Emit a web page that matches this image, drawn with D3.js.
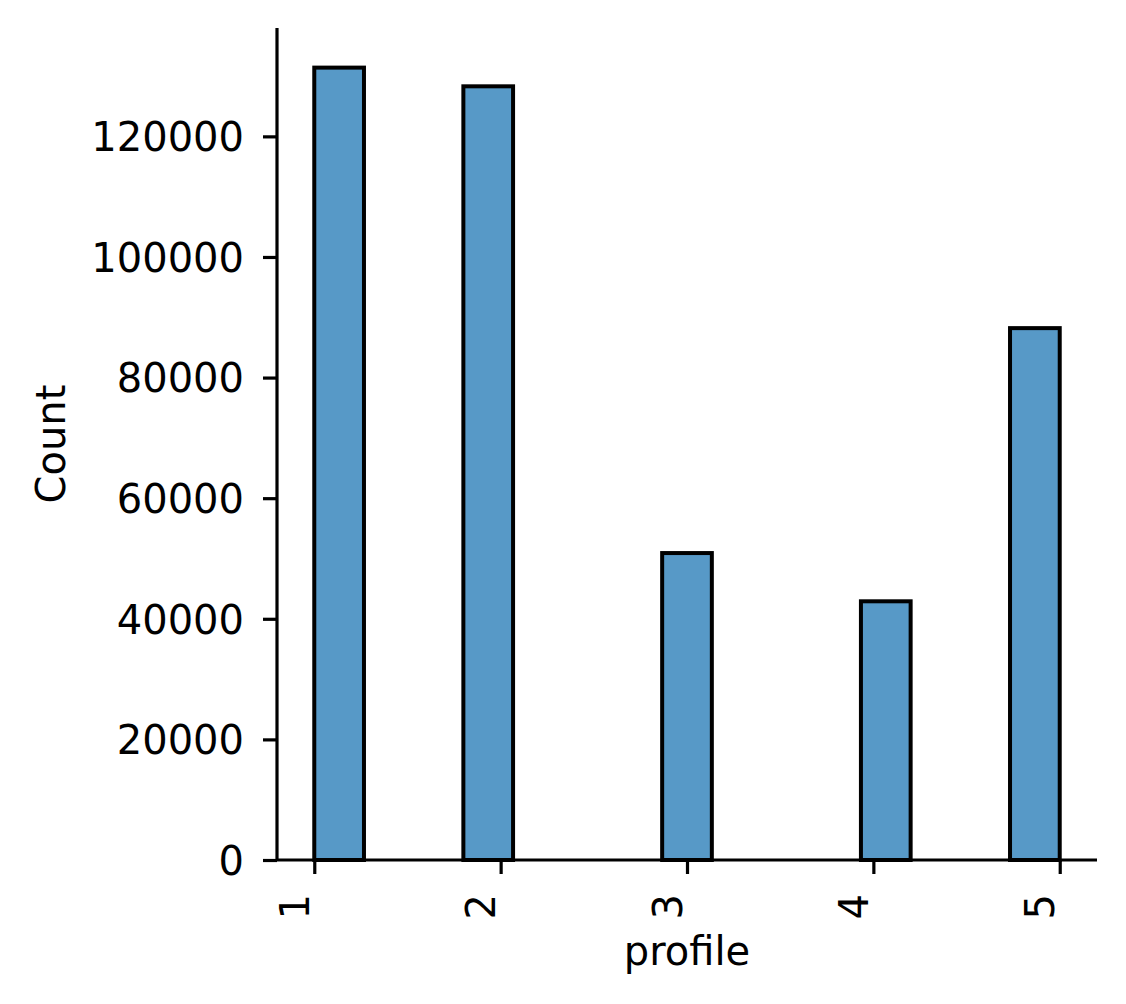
<!DOCTYPE html>
<html>
<head>
<meta charset="utf-8">
<script src="https://cdn.jsdelivr.net/npm/d3@7"></script>
<style>
  body { margin: 0; background: #fff; }
  svg text { font-family: "DejaVu Sans", sans-serif; fill: #000; }
</style>
</head>
<body>
<svg id="chart" width="1126" height="1004"></svg>
<script>
// histogram bins (profile value ranges) and counts
const binStart = [1.0, 1.8, 2.8667, 3.9333, 4.7333];
const binEnd   = [1.2667, 2.0667, 3.1333, 4.2, 5.0];
const counts   = [131400, 128300, 50900, 42900, 88200];
const xTicks   = [1, 2, 3, 4, 5];
const yTicks   = [0, 20000, 40000, 60000, 80000, 100000, 120000];

const svg = d3.select('#chart');
const plot = { left: 277, right: 1097, top: 28, bottom: 860 };

const x = d3.scaleLinear()
    .domain([0.8, 5.2])
    .range([plot.left, plot.right]);

const y = d3.scaleLinear()
    .domain([0, d3.max(counts) * 1.05])
    .range([plot.bottom, plot.top]);

const bins = counts.map((c, i) => ({ x0: binStart[i], x1: binEnd[i], count: c }));

// bars
svg.append('g').selectAll('rect')
  .data(bins)
  .enter().append('rect')
    .attr('x', d => x(d.x0))
    .attr('y', d => y(d.count))
    .attr('width', d => x(d.x1) - x(d.x0))
    .attr('height', d => y(0) - y(d.count))
    .attr('fill', '#1f77b4')
    .attr('fill-opacity', 0.75)
    .attr('stroke', '#000')
    .attr('stroke-width', 4);

// y axis
const yAxis = svg.append('g')
    .attr('transform', `translate(${plot.left},0)`)
    .call(d3.axisLeft(y).tickValues(yTicks).tickSize(14).tickPadding(19).tickFormat(d3.format('d')));
yAxis.select('.domain').attr('stroke-width', 3.2).attr('d', `M0,${plot.bottom}V${plot.top}`);
yAxis.selectAll('.tick line').attr('stroke-width', 3.2);
yAxis.selectAll('.tick text')
    .attr('font-size', 40)
    .attr('dy', '0.36em');

// x axis, labels rotated to read bottom-up
const xAxis = svg.append('g')
    .attr('transform', `translate(0,${plot.bottom})`)
    .call(d3.axisBottom(x).tickValues(xTicks).tickSize(14).tickFormat(d3.format('d')));
xAxis.select('.domain').attr('stroke-width', 3.2).attr('d', `M${plot.left},0H${plot.right}`);
xAxis.selectAll('.tick line').attr('stroke-width', 3.2);
xAxis.selectAll('.tick text')
    .attr('font-size', 40)
    .attr('text-anchor', 'end')
    .attr('dy', null)
    .attr('y', null)
    .attr('transform', 'translate(-6,34) rotate(-90)');

svg.selectAll('.domain').attr('stroke', '#000');
svg.selectAll('.tick line').attr('stroke', '#000');

// axis labels
svg.append('text')
    .attr('x', (plot.left + plot.right) / 2)
    .attr('y', 965)
    .attr('text-anchor', 'middle')
    .attr('font-size', 40)
    .text('profile');

svg.append('text')
    .attr('transform', `translate(65,${(plot.top + plot.bottom) / 2}) rotate(-90)`)
    .attr('text-anchor', 'middle')
    .attr('font-size', 40)
    .text('Count');
</script>
</body>
</html>
